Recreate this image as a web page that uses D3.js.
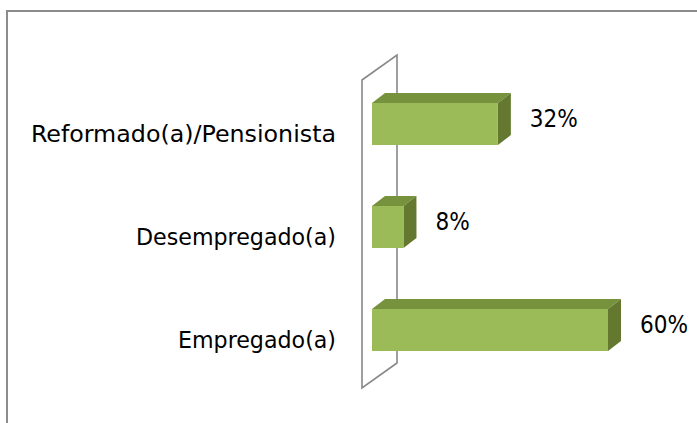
<!DOCTYPE html>
<html><head><meta charset="utf-8">
<script src="https://cdn.jsdelivr.net/npm/d3@7"></script>
<style>body{margin:0;background:#fff}svg{display:block}</style>
</head><body>
<script>
const categories = ["Reformado(a)/Pensionista", "Desempregado(a)", "Empregado(a)"];
const values = [32, 8, 60];
const valueLabels = ["32%", "8%", "60%"];

const W = 697, H = 423;
const svg = d3.select("body").append("svg").attr("width", W).attr("height", H);

// frame
svg.append("path").attr("d", `M7,${H+2}V11H${W+2}`).attr("fill","none").attr("stroke","#8c8c8c").attr("stroke-width",2);

const x = d3.scaleLinear().domain([0, 60]).range([372, 608]);
const y = d3.scaleBand().domain(categories).range([72.5, 381.5]).paddingInner(0.592).paddingOuter(0.296);
const dx = 13, dy = -10;

// wall
const x0 = x(0);
svg.append("path")
  .attr("d", `M${x0-10},80L${x0+25},55L${x0+25},363L${x0-10},388Z`)
  .attr("fill","#fff").attr("stroke","#888").attr("stroke-width",1.6);

const data = categories.map((c,i)=>({c, v: values[i], l: valueLabels[i]}));
const g = svg.selectAll("g.bar").data(data).join("g").attr("class","bar");
g.append("path").attr("fill","#76923c")
  .attr("d", d=>{const yy=y(d.c), x1=x(d.v); return `M${x0},${yy}L${x0+dx},${yy+dy}L${x1+dx},${yy+dy}L${x1},${yy}Z`;});
g.append("path").attr("fill","#64792f")
  .attr("d", d=>{const yy=y(d.c), x1=x(d.v), h=y.bandwidth(); return `M${x1},${yy}L${x1+dx},${yy+dy}L${x1+dx},${yy+h+dy}L${x1},${yy+h}Z`;});
g.append("rect").attr("fill","#9bbb59")
  .attr("x", x0).attr("y", d=>y(d.c)).attr("width", d=>x(d.v)-x0).attr("height", y.bandwidth());

g.append("text").text(d=>d.l)
  .attr("x", d=>x(d.v)+dx+19).attr("y", d=>y(d.c)+y.bandwidth()/2+dy/2)
  .attr("dy","0.35em").attr("font-family","DejaVu Sans Condensed, DejaVu Sans, sans-serif").attr("font-size",24).attr("fill","#000");

const targetW = {"Reformado(a)/Pensionista":305, "Desempregado(a)":200, "Empregado(a)":158};
svg.selectAll("text.cat").data(categories).join("text").attr("class","cat")
  .text(d=>d)
  .attr("x", 336).attr("y", d=>y(d)+y.bandwidth()/2+10)
  .attr("dy","0.35em").attr("text-anchor","end")
  .attr("font-family","DejaVu Sans Condensed, DejaVu Sans, sans-serif").attr("font-size",23).attr("fill","#000")
  .attr("textLength", d=>targetW[d]).attr("lengthAdjust","spacingAndGlyphs");
</script>
</body></html>
